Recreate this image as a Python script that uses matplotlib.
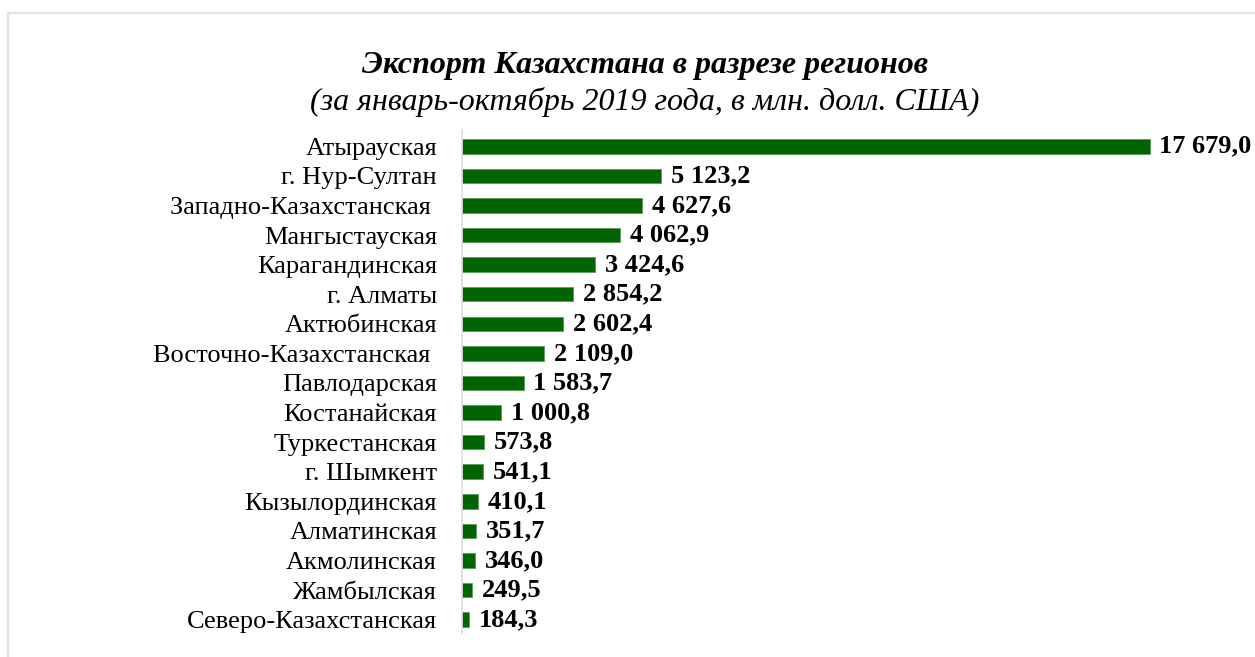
import numpy as np
import matplotlib.pyplot as plt
from matplotlib.patches import Rectangle

regions = ['Атырауская', 'г. Нур-Султан', 'Западно-Казахстанская ', 'Мангыстауская',
           'Карагандинская', 'г. Алматы', 'Актюбинская', 'Восточно-Казахстанская ',
           'Павлодарская', 'Костанайская', 'Туркестанская', 'г. Шымкент',
           'Кызылординская', 'Алматинская', 'Акмолинская', 'Жамбылская',
           'Северо-Казахстанская']
values = [17679.0, 5123.2, 4627.6, 4062.9, 3424.6, 2854.2, 2602.4, 2109.0,
          1583.7, 1000.8, 573.8, 541.1, 410.1, 351.7, 346.0, 249.5, 184.3]
value_labels = ['17 679,0', '5 123,2', '4 627,6', '4 062,9', '3 424,6', '2 854,2',
                '2 602,4', '2 109,0', '1 583,7', '1 000,8', '573,8', '541,1',
                '410,1', '351,7', '346,0', '249,5', '184,3']

plt.rcParams['font.family'] = ['Liberation Serif', 'DejaVu Serif']

fig = plt.figure(figsize=(12.55, 6.57), dpi=100)
# light frame around the chart area (top and left visible)
fig.patches.append(Rectangle((8/1255, -0.1), 1.2, 0.1 + 1 - 13/657, transform=fig.transFigure,
                             fill=False, edgecolor='#dfe3ea', linewidth=1.5))

ax = fig.add_axes([462/1255, 1 - 633/657, 778/1255, 503/657])
y = np.arange(len(regions))
ax.barh(y, values, height=0.49, color='#006400', edgecolor='#5a9a5a', linewidth=0.6)
for yi, v, lab in zip(y, values, value_labels):
    ax.annotate(lab, (v, yi), xytext=(7, 0), textcoords='offset points',
                ha='left', va='center', fontsize=19, fontweight='bold')

ax.set_xlim(0, 20000)
ax.set_ylim(16.45, -0.55)
ax.set_yticks(y)
ax.set_yticklabels(regions, fontsize=19)
ax.tick_params(axis='y', length=0, pad=18)
ax.set_xticks([])
for s in ['top', 'right', 'bottom']:
    ax.spines[s].set_visible(False)
ax.spines['left'].set_color('#d9dde6')
ax.spines['left'].set_linewidth(1.2)

fig.text(645/1255, 1 - 66/657, 'Экспорт Казахстана в разрезе регионов', ha='center', va='center',
         fontsize=23, fontweight='bold', fontstyle='italic')
fig.text(645/1255, 1 - 102/657, '(за январь-октябрь 2019 года, в млн. долл. США)', ha='center',
         va='center', fontsize=23, fontstyle='italic')

fig.savefig('out.png', dpi=100)
